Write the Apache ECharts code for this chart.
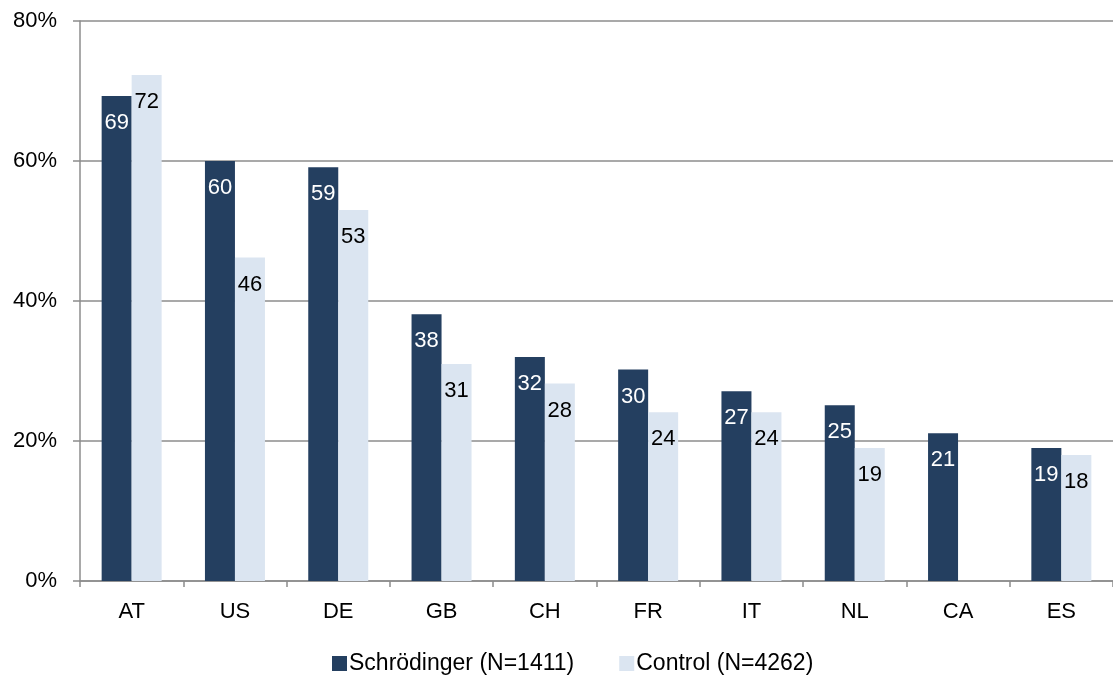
<!DOCTYPE html>
<html>
<head>
<meta charset="utf-8">
<script src="https://cdn.jsdelivr.net/npm/echarts@6/dist/echarts.min.js"></script>
<style>
html,body{margin:0;padding:0;background:#fff;}
#c{width:1113px;height:677px;}
</style>
</head>
<body>
<div id="c"></div>
<script>
const categories = ['AT','US','DE','GB','CH','FR','IT','NL','CA','ES'];
const schrodinger = [69.3,60,59.1,38.1,32,30.2,27.1,25.1,21.1,19];
const control = [72.3,46.2,53,31,28.2,24.1,24.1,19,null,18];
const yTicks = [0,20,40,60,80];
const seriesNames = ['Schrödinger (N=1411)','Control (N=4262)'];

const font = 'Liberation Sans, Arial, sans-serif';
const roundLabel = p => Math.round(p.value);
const chart = echarts.init(document.getElementById('c'), null, {renderer:'canvas'});
chart.setOption({
  animation:false,
  backgroundColor:'#ffffff',
  textStyle:{fontFamily:font},
  grid:{left:80,right:0,top:21,bottom:96,containLabel:false},
  legend:{
    left:332,top:652,padding:0,
    itemWidth:15,itemHeight:15,itemGap:45,
    icon:'rect',
    textStyle:{fontSize:23,color:'#000',fontFamily:font,padding:[0,0,0,-3]},
    data:seriesNames
  },
  xAxis:{
    type:'category',
    data:categories,
    axisLine:{lineStyle:{color:'#8c8c8c',width:1.5}},
    axisTick:{show:true,length:6,lineStyle:{color:'#8c8c8c',width:1.5}},
    axisLabel:{fontSize:22,color:'#000',margin:20,fontFamily:font}
  },
  yAxis:{
    type:'value',
    min:yTicks[0],max:yTicks[yTicks.length-1],interval:20,
    axisLine:{show:true,lineStyle:{color:'#8c8c8c',width:1.5}},
    axisTick:{show:true,length:7,lineStyle:{color:'#8c8c8c',width:1.5}},
    splitLine:{lineStyle:{color:'#8c8c8c',width:1.5}},
    axisLabel:{fontSize:22,color:'#000',margin:23,formatter:'{value}%',fontFamily:font}
  },
  series:[
    {
      name:seriesNames[0],type:'bar',data:schrodinger,
      barWidth:30,barGap:'0%',
      itemStyle:{color:'#243F60'},
      label:{show:true,position:'insideTop',distance:16,fontSize:22,color:'#ffffff',fontFamily:font,formatter:roundLabel}
    },
    {
      name:seriesNames[1],type:'bar',data:control,
      barWidth:30,barGap:'0%',
      itemStyle:{color:'#DBE5F1'},
      label:{show:true,position:'insideTop',distance:16,fontSize:22,color:'#000000',fontFamily:font,formatter:roundLabel}
    }
  ]
});
</script>
</body>
</html>
